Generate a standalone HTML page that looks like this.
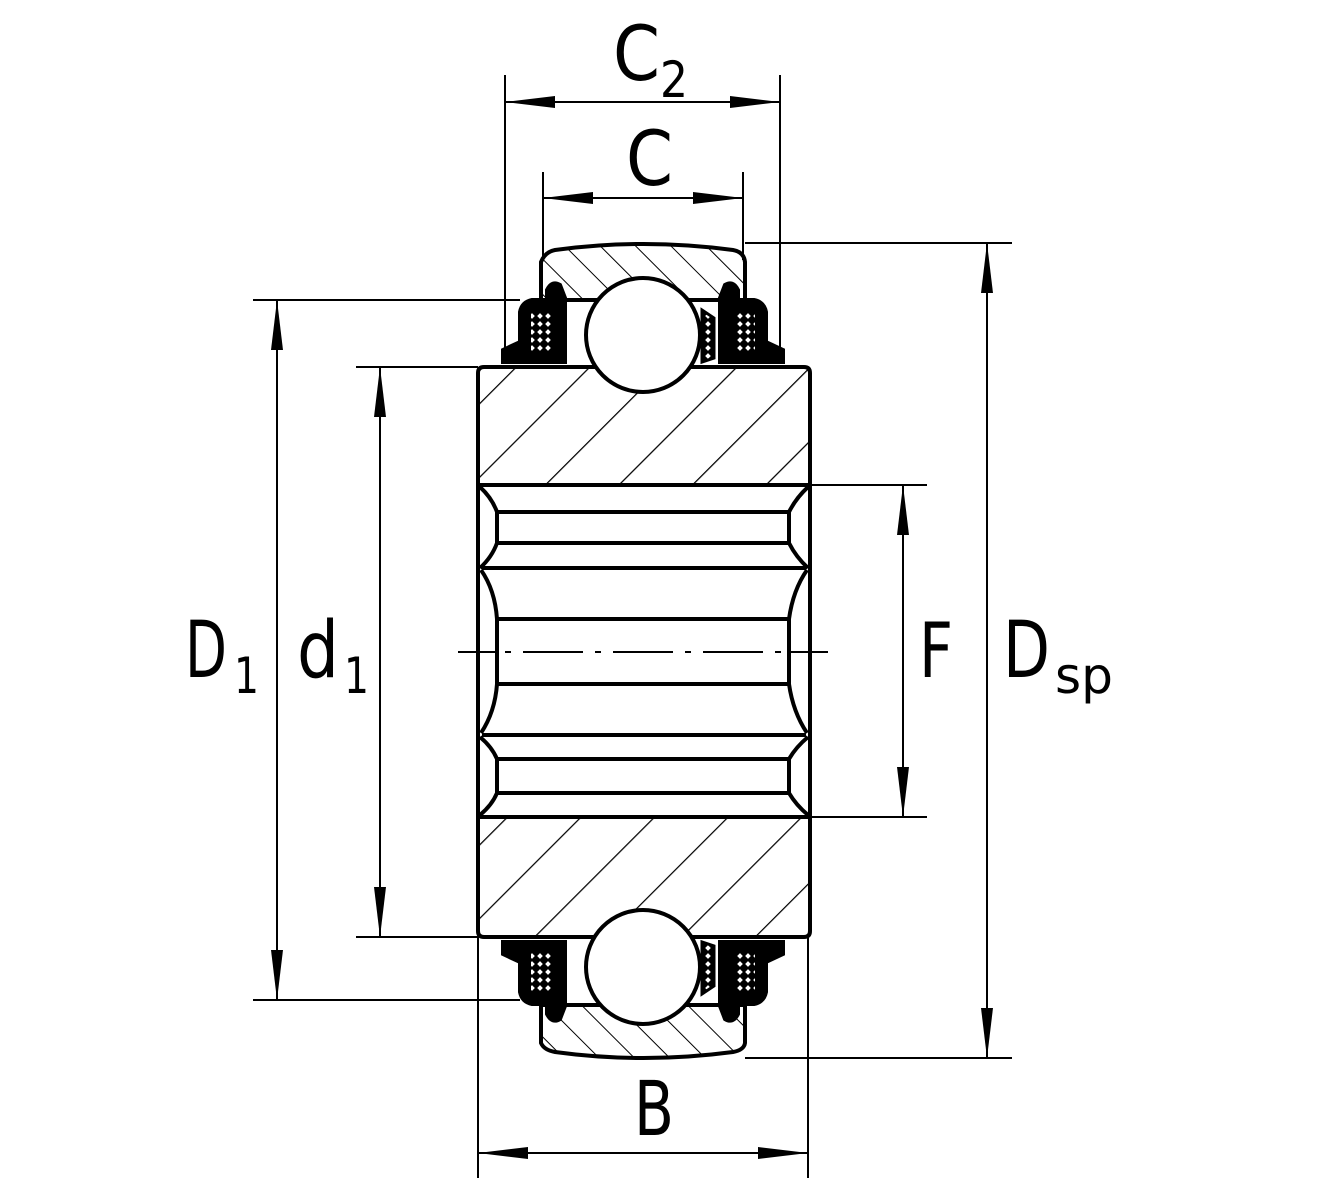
<!DOCTYPE html>
<html><head><meta charset="utf-8"><style>
html,body{margin:0;padding:0;background:#fff;}
svg{display:block;}
text{font-family:"DejaVu Sans","Liberation Sans",sans-serif;fill:#000;}
</style></head><body>
<svg width="1330" height="1200" viewBox="0 0 1330 1200" xmlns="http://www.w3.org/2000/svg">
<defs>
<pattern id="hi" patternUnits="userSpaceOnUse" width="52" height="52" patternTransform="rotate(45)">
<line x1="0" y1="0" x2="0" y2="52" stroke="#000" stroke-width="2.5"/></pattern>
<pattern id="ho" patternUnits="userSpaceOnUse" width="25" height="25" patternTransform="rotate(-45)">
<line x1="0" y1="0" x2="0" y2="25" stroke="#000" stroke-width="2"/></pattern>
<pattern id="xh" patternUnits="userSpaceOnUse" width="8" height="8">
<rect width="8" height="8" fill="#000"/><rect x="2" y="2" width="4" height="4" fill="#fff" transform="rotate(45 4 4)"/></pattern>
<marker id="ar" markerWidth="50" markerHeight="14" refX="50" refY="7" orient="auto" markerUnits="userSpaceOnUse">
<path d="M0,1 L50,7 L0,13 Z" fill="#000"/></marker>
</defs>

<g stroke="#000" stroke-width="2" fill="none">
<line x1="505" y1="75" x2="505" y2="362"/>
<line x1="780" y1="75" x2="780" y2="362"/>
<line x1="543" y1="172" x2="543" y2="260"/>
<line x1="743" y1="172" x2="743" y2="260"/>
<line x1="745" y1="243" x2="1012" y2="243"/>
<line x1="745" y1="1058" x2="1012" y2="1058"/>
<line x1="253" y1="300" x2="520" y2="300"/>
<line x1="253" y1="1000" x2="520" y2="1000"/>
<line x1="356" y1="367" x2="478" y2="367"/>
<line x1="356" y1="937" x2="478" y2="937"/>
<line x1="810" y1="485" x2="927" y2="485"/>
<line x1="810" y1="817" x2="927" y2="817"/>
<line x1="478" y1="937" x2="478" y2="1178"/>
<line x1="808" y1="937" x2="808" y2="1178"/>
<line x1="580" y1="102" x2="505" y2="102" marker-end="url(#ar)"/>
<line x1="705" y1="102" x2="780" y2="102" marker-end="url(#ar)"/>
<line x1="580" y1="102" x2="705" y2="102"/>
<line x1="615" y1="198" x2="543" y2="198" marker-end="url(#ar)"/>
<line x1="670" y1="198" x2="743" y2="198" marker-end="url(#ar)"/>
<line x1="615" y1="198" x2="670" y2="198"/>
<line x1="987" y1="320" x2="987" y2="243" marker-end="url(#ar)"/>
<line x1="987" y1="980" x2="987" y2="1058" marker-end="url(#ar)"/>
<line x1="987" y1="320" x2="987" y2="980"/>
<line x1="277" y1="380" x2="277" y2="300" marker-end="url(#ar)"/>
<line x1="277" y1="920" x2="277" y2="1000" marker-end="url(#ar)"/>
<line x1="277" y1="380" x2="277" y2="920"/>
<line x1="380" y1="440" x2="380" y2="367" marker-end="url(#ar)"/>
<line x1="380" y1="865" x2="380" y2="937" marker-end="url(#ar)"/>
<line x1="380" y1="440" x2="380" y2="865"/>
<line x1="903" y1="560" x2="903" y2="485" marker-end="url(#ar)"/>
<line x1="903" y1="745" x2="903" y2="817" marker-end="url(#ar)"/>
<line x1="903" y1="560" x2="903" y2="745"/>
<line x1="555" y1="1153" x2="478" y2="1153" marker-end="url(#ar)"/>
<line x1="732" y1="1153" x2="808" y2="1153" marker-end="url(#ar)"/>
<line x1="555" y1="1153" x2="732" y2="1153"/>
</g>

<path d="M541,262 Q545,252 555,250 Q643,238 733,250 Q744,252 745,262 L745,300 L541,300 Z" fill="url(#ho)" stroke="#000" stroke-width="4"/>
<path d="M541,1005 L745,1005 L745,1043 Q744,1050 733,1052 Q643,1064 555,1052 Q544,1050 541,1043 Z" fill="url(#ho)" stroke="#000" stroke-width="4"/>

<path d="M484,367 L804,367 Q810,367 810,373 L810,485 L478,485 L478,373 Q478,367 484,367 Z" fill="url(#hi)" stroke="#000" stroke-width="4"/>
<path d="M484,937 L804,937 Q810,937 810,931 L810,817 L478,817 L478,931 Q478,937 484,937 Z" fill="url(#hi)" stroke="#000" stroke-width="4"/>

<g stroke="#000" stroke-width="4" fill="#fff">
<rect x="478" y="485" width="332" height="332"/>
<line x1="497" y1="512" x2="789" y2="512"/>
<line x1="497" y1="543" x2="789" y2="543"/>
<line x1="482" y1="568" x2="806" y2="568"/>
<line x1="497" y1="619" x2="789" y2="619"/>
<line x1="497" y1="684" x2="789" y2="684"/>
<line x1="482" y1="735" x2="806" y2="735"/>
<line x1="497" y1="759" x2="789" y2="759"/>
<line x1="497" y1="793" x2="789" y2="793"/>
<g fill="none">
<path d="M480,487 Q492,498 497,512 L497,543 Q492,557 480,568"/>
<path d="M808,487 Q796,498 789,512 L789,543 Q796,557 808,568"/>
<path d="M481,570 Q495,590 497,619 L497,684 Q495,712 481,733"/>
<path d="M807,570 Q793,590 789,619 L789,684 Q793,712 807,733"/>
<path d="M480,737 Q492,747 497,759 L497,793 Q492,805 480,815"/>
<path d="M808,737 Q796,747 789,759 L789,793 Q796,805 808,815"/>
</g>
</g>
<line x1="458" y1="652" x2="497" y2="652" stroke="#000" stroke-width="2"/>
<line x1="789" y1="652" x2="828" y2="652" stroke="#000" stroke-width="2"/>
<line x1="505" y1="652" x2="785" y2="652" stroke="#000" stroke-width="2" stroke-dasharray="6,12,60,12"/>

<g stroke="#000" stroke-width="4" fill="#000">
<path d="M503,362 L503,350 L520,342 L520,312 Q522,302 532,300 L560,300 L560,362 Z"/>
<path d="M547,300 L547,290 Q552,280 560,285 L565,298 L565,362 L557,362 L557,300 Z"/>
<path d="M783,362 L783,350 L766,342 L766,312 Q764,302 754,300 L726,300 L726,362 Z"/>
<path d="M738,300 L738,290 Q733,280 725,285 L720,298 L720,362 L728,362 L728,300 Z"/>
<path d="M702,310 L714,318 L714,358 L702,362 Z" fill="url(#xh)" stroke-width="3"/>
</g>
<rect x="531" y="311" width="20" height="40" fill="url(#xh)"/>
<rect x="735" y="311" width="20" height="40" fill="url(#xh)"/>
<g stroke="#000" stroke-width="4" fill="#000">
<path d="M503,942 L503,954 L520,962 L520,992 Q522,1002 532,1004 L560,1004 L560,942 Z"/>
<path d="M547,1004 L547,1014 Q552,1024 560,1019 L565,1006 L565,942 L557,942 L557,1004 Z"/>
<path d="M783,942 L783,954 L766,962 L766,992 Q764,1002 754,1004 L726,1004 L726,942 Z"/>
<path d="M738,1004 L738,1014 Q733,1024 725,1019 L720,1006 L720,942 L728,942 L728,1004 Z"/>
<path d="M702,994 L714,986 L714,946 L702,942 Z" fill="url(#xh)" stroke-width="3"/>
</g>
<rect x="531" y="953" width="20" height="40" fill="url(#xh)"/>
<rect x="735" y="953" width="20" height="40" fill="url(#xh)"/>

<circle cx="643" cy="335" r="57" fill="#fff" stroke="#000" stroke-width="4"/>
<circle cx="643" cy="967" r="57" fill="#fff" stroke="#000" stroke-width="4"/>

<text x="613" y="80" font-size="76" textLength="47" lengthAdjust="spacingAndGlyphs">C</text>
<text x="660" y="97" font-size="50" textLength="28" lengthAdjust="spacingAndGlyphs">2</text>
<text x="626" y="185" font-size="76" textLength="47" lengthAdjust="spacingAndGlyphs">C</text>
<text x="185" y="677" font-size="78" textLength="42" lengthAdjust="spacingAndGlyphs">D</text>
<text x="234" y="693" font-size="50" textLength="25" lengthAdjust="spacingAndGlyphs">1</text>
<text x="297" y="677" font-size="78" textLength="42" lengthAdjust="spacingAndGlyphs">d</text>
<text x="344" y="693" font-size="50" textLength="25" lengthAdjust="spacingAndGlyphs">1</text>
<text x="919" y="677" font-size="76" textLength="34" lengthAdjust="spacingAndGlyphs">F</text>
<text x="1003" y="677" font-size="78" textLength="47" lengthAdjust="spacingAndGlyphs">D</text>
<text x="1055" y="693" font-size="50" textLength="58" lengthAdjust="spacingAndGlyphs">sp</text>
<text x="634" y="1135" font-size="76" textLength="40" lengthAdjust="spacingAndGlyphs">B</text>
</svg>
</body></html>
